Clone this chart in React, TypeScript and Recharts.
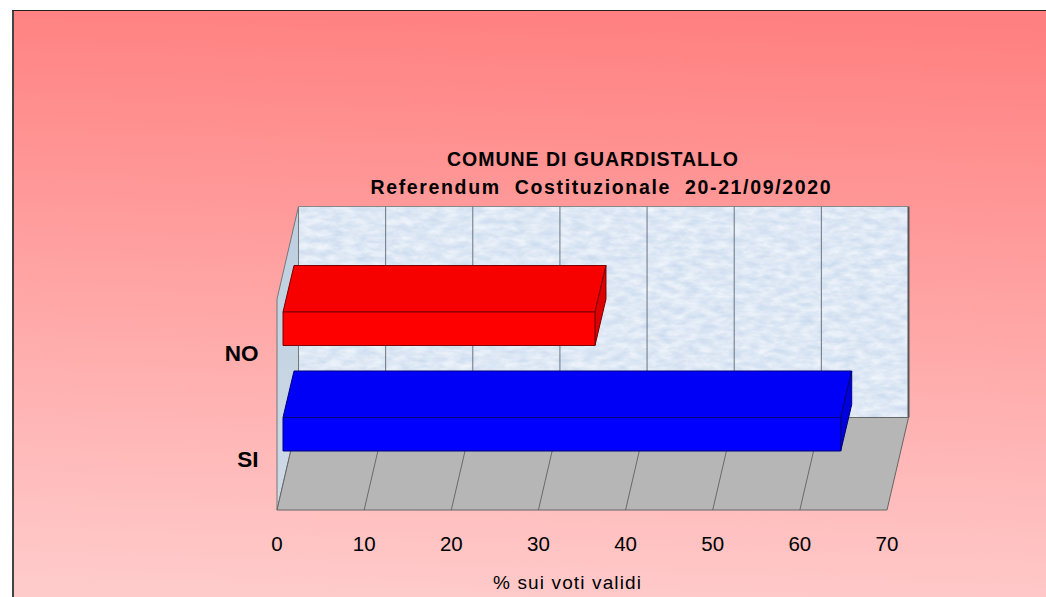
import React from "react";
import { BarChart, Bar, XAxis, YAxis, CartesianGrid, Cell } from "recharts";

const categories = ["NO", "SI"];
const percentages = [35.8, 64.0];
const barColors = [
  { front: "#FF0000", top: "#F60000", side: "#DC0000", edge: "#7A0000" },
  { front: "#0000FF", top: "#0000F6", side: "#0000DC", edge: "#00007A" },
];
const xTicks = [0, 10, 20, 30, 40, 50, 60, 70];
const titleLines = ["COMUNE DI GUARDISTALLO", "Referendum  Costituzionale  20-21/09/2020"];
const xAxisTitle = "% sui voti validi";

const data = categories.map((name, i) => ({ name, value: percentages[i] }));

const W = 1046;
const H = 597;
const plot = { left: 277, right: 887, top: 299, bottom: 510 };
const depth = { dx: 21.5, dy: -92.5 };
const FONT = "'Liberation Sans', Arial, sans-serif";

const Backdrop = () => (
  <svg width={W} height={H} style={{ position: "absolute", left: 0, top: 0 }}>
    <defs>
      <linearGradient id="bg" gradientUnits="userSpaceOnUse" x1={540} y1={10} x2={520} y2={597}>
        <stop offset="0" stopColor="#FF8080" />
        <stop offset="1" stopColor="#FFCACA" />
      </linearGradient>
      <filter id="marble" x="0" y="0" width="1" height="1" colorInterpolationFilters="sRGB">
        <feTurbulence type="fractalNoise" baseFrequency="0.07 0.16" numOctaves={4} seed={7} />
        <feColorMatrix
          type="matrix"
          values="0.2 0 0 0 0.77  0.14 0 0 0 0.84  0.06 0 0 0 0.93  0 0 0 0 1"
        />
      </filter>
      <linearGradient id="side" x1="0" y1="0" x2="0" y2="1">
        <stop offset="0" stopColor="#BCCFE0" />
        <stop offset="1" stopColor="#CFDAE6" />
      </linearGradient>
    </defs>
    <rect x={13} y={10} width={W} height={H} fill="url(#bg)" />
    <line x1={13} y1={10} x2={13} y2={H} stroke="#444" strokeWidth={2} />
    <line x1={12} y1={10.5} x2={W} y2={10.5} stroke="#222" strokeWidth={1} />
    <rect
      x={plot.left + depth.dx}
      y={plot.top + depth.dy}
      width={plot.right - plot.left + 0.5}
      height={plot.bottom - plot.top}
      filter="url(#marble)"
    />
    <polygon
      points={`${plot.left},${plot.top} ${plot.left + depth.dx},${plot.top + depth.dy} ${plot.left + depth.dx},${plot.bottom + depth.dy} ${plot.left},${plot.bottom}`}
      fill="url(#side)"
      stroke="#777"
      strokeWidth={1}
    />
    <polygon
      points={`${plot.left},${plot.bottom} ${plot.right},${plot.bottom} ${plot.right + depth.dx},${plot.bottom + depth.dy} ${plot.left + depth.dx},${plot.bottom + depth.dy}`}
      fill="#B6B6B6"
      stroke="#666"
      strokeWidth={1}
    />
    <line
      x1={plot.left + depth.dx}
      y1={plot.top + depth.dy}
      x2={plot.right + depth.dx}
      y2={plot.top + depth.dy}
      stroke="#888"
    />
    <line
      x1={plot.right + depth.dx}
      y1={plot.top + depth.dy}
      x2={plot.right + depth.dx}
      y2={plot.bottom + depth.dy}
      stroke="#555"
      strokeWidth={2}
    />
  </svg>
);

const gridLine = (p: any) => {
  const x = p.x1;
  const edge = p.index === 0 || p.index === xTicks.length - 1;
  return (
    <g key={`g${p.index}`}>
      {!edge && (
        <>
          <line x1={x} y1={plot.bottom} x2={x + depth.dx} y2={plot.bottom + depth.dy} stroke="#555" strokeWidth={0.8} />
          <line
            x1={x + depth.dx}
            y1={plot.bottom + depth.dy}
            x2={x + depth.dx}
            y2={plot.top + depth.dy}
            stroke="#6A7480"
            strokeWidth={1}
          />
        </>
      )}
    </g>
  );
};

const Box3D = (props: any) => {
  const { x, y, width, height, index } = props;
  const c = barColors[index];
  const ox = 6;
  const oy = -23;
  const dx = 11;
  const dy = -46.5;
  const x0 = x + ox;
  const y0 = y + oy;
  const x1 = x0 + width;
  const y1 = y0 + height;
  return (
    <g strokeLinejoin="round" stroke={c.edge} strokeWidth={1}>
      <polygon points={`${x0},${y0} ${x1},${y0} ${x1 + dx},${y0 + dy} ${x0 + dx},${y0 + dy}`} fill={c.top} />
      <polygon points={`${x1},${y0} ${x1 + dx},${y0 + dy} ${x1 + dx},${y1 + dy} ${x1},${y1}`} fill={c.side} />
      <rect x={x0} y={y0} width={width} height={height} fill={c.front} />
    </g>
  );
};

const XTick = (p: any) => (
  <text x={p.x} y={551} textAnchor="middle" fontFamily={FONT} fontSize={20.5} fill="#000">
    {p.payload.value}
  </text>
);

const YTick = (p: any) => (
  <text x={258.5} y={p.y + 9.5} textAnchor="end" fontFamily={FONT} fontSize={22.5} fontWeight="bold" fill="#000">
    {p.payload.value}
  </text>
);

export default function App() {
  return (
    <div style={{ position: "absolute", left: 0, top: 0, width: W, height: H, overflow: "hidden", background: "#fff" }}>
      <Backdrop />
      <div style={{ position: "absolute", left: 0, top: 0 }}>
        <BarChart
          width={W}
          height={H}
          data={data}
          layout="vertical"
          barSize={33.5}
          margin={{ top: plot.top, left: 0, right: W - plot.right, bottom: 0 }}
        >
          <CartesianGrid horizontal={false} vertical={gridLine} stroke="none" />
          <XAxis
            type="number"
            domain={[0, 70]}
            ticks={xTicks}
            height={H - plot.bottom}
            axisLine={false}
            tickLine={false}
            tick={<XTick />}
            interval={0}
          />
          <YAxis
            type="category"
            dataKey="name"
            width={plot.left}
            axisLine={false}
            tickLine={false}
            tick={<YTick />}
            interval={0}
          />
          <Bar dataKey="value" shape={<Box3D />} isAnimationActive={false}>
            {data.map((d, i) => (
              <Cell key={d.name} fill={barColors[i].front} />
            ))}
          </Bar>
          <text x={592.5} y={165.5} textAnchor="middle" fontFamily={FONT} fontSize={19.5} fontWeight="bold" fill="#000" textLength={291}>
            {titleLines[0]}
          </text>
          <text x={600.5} y={193.5} textAnchor="middle" fontFamily={FONT} fontSize={19.5} fontWeight="bold" fill="#000" textLength={460} style={{ whiteSpace: "pre" }}>
            {titleLines[1]}
          </text>
          <text x={567} y={589} textAnchor="middle" fontFamily={FONT} fontSize={19} fill="#000" textLength={148}>
            {xAxisTitle}
          </text>
        </BarChart>
      </div>
    </div>
  );
}
